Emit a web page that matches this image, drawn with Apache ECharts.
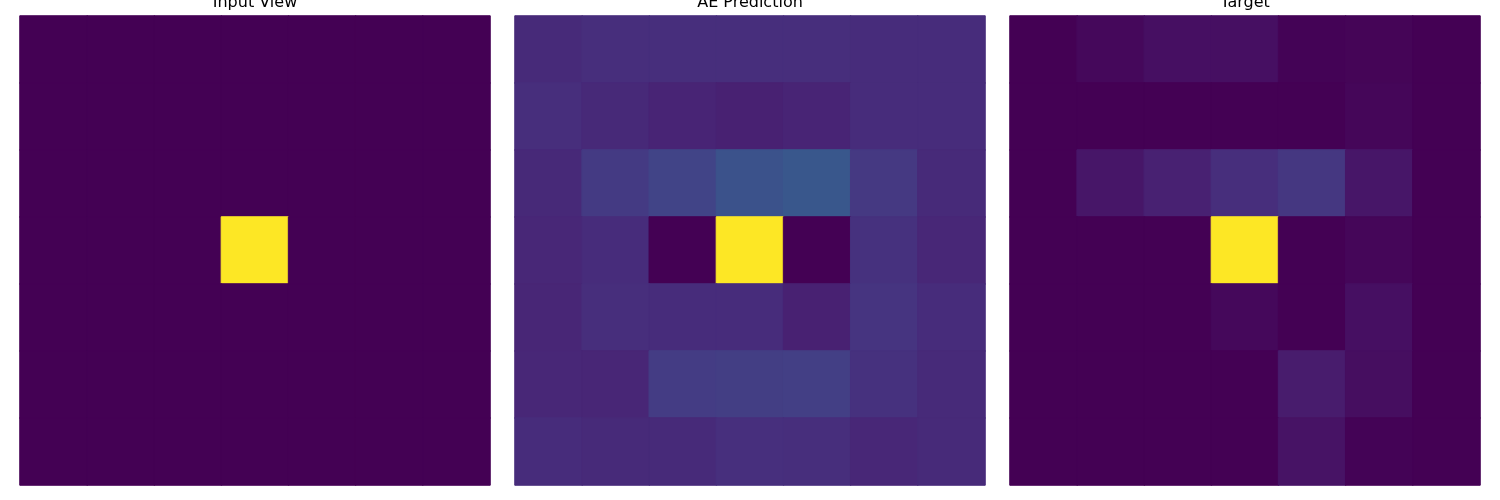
<!DOCTYPE html>
<html>
<head>
<meta charset="utf-8">
<script src="https://cdn.jsdelivr.net/npm/echarts@6/dist/echarts.min.js"></script>
<style>html,body{margin:0;padding:0;background:#fff}#c{width:1500px;height:500px}</style>
</head>
<body>
<div id="c"></div>
<script>
const titles = ['Input View', 'AE Prediction', 'Target'];
const cols = ['0','1','2','3','4','5','6'];
const rows = ['0','1','2','3','4','5','6'];

const inputView = [
  [0,0,0,0,0,0,0],
  [0,0,0,0,0,0,0],
  [0,0,0,0,0,0,0],
  [0,0,0,1,0,0,0],
  [0,0,0,0,0,0,0],
  [0,0,0,0,0,0,0],
  [0,0,0,0,0,0,0]
];
const aePrediction = [
  [0.12,0.13,0.13,0.13,0.13,0.125,0.125],
  [0.13,0.115,0.10,0.09,0.10,0.125,0.125],
  [0.115,0.17,0.20,0.25,0.27,0.165,0.12],
  [0.11,0.125,0.0,1.0,0.0,0.14,0.11],
  [0.105,0.13,0.125,0.125,0.09,0.15,0.125],
  [0.11,0.105,0.175,0.18,0.185,0.14,0.12],
  [0.125,0.12,0.12,0.135,0.13,0.11,0.12]
];
const target = [
  [0,0.02,0.04,0.04,0.005,0.01,0],
  [0,0,0,0,0,0.015,0],
  [0,0.06,0.09,0.13,0.16,0.06,0],
  [0,0,0,1.0,0,0.015,0],
  [0,0,0,0.02,0,0.04,0],
  [0,0,0,0,0.075,0.035,0],
  [0,0,0,0,0.05,0.005,0]
];

const viridis = ['#440154','#471365','#482475','#463480','#414487','#3b528b','#355f8d','#2f6c8e','#2a788e','#25848e','#21918c','#1e9c89','#22a884','#2fb47c','#44bf70','#5ec962','#7ad151','#9bd93c','#bddf26','#dfe318','#fde725'];

function cmap(v) {
  const t = Math.max(0, Math.min(1, v)) * (viridis.length - 1);
  const i = Math.min(Math.floor(t), viridis.length - 2);
  const f = t - i;
  const a = viridis[i], b = viridis[i + 1];
  const ch = k => {
    const x = parseInt(a.substr(1 + 2 * k, 2), 16), y = parseInt(b.substr(1 + 2 * k, 2), 16);
    return Math.round(x + (y - x) * f);
  };
  return 'rgb(' + ch(0) + ',' + ch(1) + ',' + ch(2) + ')';
}

const panels = [inputView, aePrediction, target];
const lefts = [20, 515, 1010];
const W = 470, TOP = 16, H = 469;

function toData(m) {
  const d = [];
  for (let r = 0; r < m.length; r++)
    for (let c = 0; c < m[r].length; c++) {
      const col = cmap(m[r][c]);
      d.push({value: [c, r, m[r][c]], itemStyle: {color: col, borderColor: col, borderWidth: 1}});
    }
  return d;
}

const option = {
  backgroundColor: '#fff',
  animation: false,
  graphic: titles.map((t, i) => ({
    type: 'text',
    x: lefts[i] + W / 2,
    y: 11,
    style: {
      text: t, textAlign: 'center', textVerticalAlign: 'bottom',
      fontFamily: 'DejaVu Sans', fontSize: 16, fill: '#000'
    }
  })),
  grid: lefts.map(l => ({left: l, top: TOP, width: W, height: H})),
  xAxis: lefts.map((l, i) => ({type: 'category', data: cols, gridIndex: i, show: false})),
  yAxis: lefts.map((l, i) => ({type: 'category', data: rows, gridIndex: i, inverse: true, show: false})),
  series: panels.map((m, i) => ({
    type: 'heatmap', xAxisIndex: i, yAxisIndex: i, data: toData(m),
    emphasis: {disabled: true}
  }))
};
echarts.init(document.getElementById('c'), null, {renderer: 'canvas'}).setOption(option);
</script>
</body>
</html>
